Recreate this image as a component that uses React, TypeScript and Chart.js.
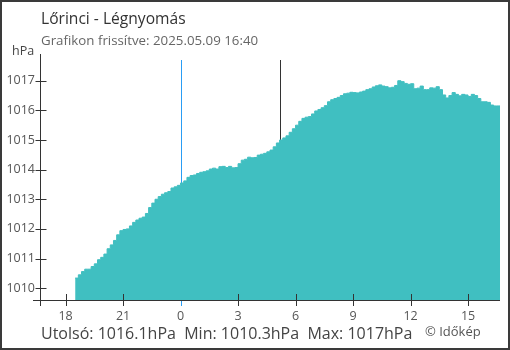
import React, { useEffect, useRef } from "react";
import { Chart, registerables } from "chart.js";

Chart.register(...registerables);

const FONT = "'Open Sans', 'Noto Sans', sans-serif";

const titleText = "Lőrinci - Légnyomás";
const subtitleText = "Grafikon frissítve: 2025.05.09 16:40";
const unitLabel = "hPa";
const footerText = "Utolsó: 1016.1hPa  Min: 1010.3hPa  Max: 1017hPa";
const creditText = "© Időkép";

// minutes relative to midnight (negative = previous day)
const startMinute = -330;
const stepMinutes = 10;
const pressure = [
  1010.34, 1010.45, 1010.56, 1010.64, 1010.64, 1010.73, 1010.82, 1010.96, 1011.04, 1011.15,
  1011.33, 1011.46, 1011.61, 1011.8, 1011.94, 1011.98, 1012.0, 1012.1, 1012.22, 1012.3,
  1012.36, 1012.4, 1012.52, 1012.72, 1012.87, 1013.0, 1013.09, 1013.17, 1013.22, 1013.26,
  1013.38, 1013.42, 1013.47, 1013.55, 1013.62, 1013.74, 1013.8, 1013.82, 1013.87, 1013.91,
  1013.93, 1013.96, 1014.02, 1014.05, 1014.02, 1014.1, 1014.11, 1014.07, 1014.11, 1014.06,
  1014.07, 1014.2, 1014.32, 1014.35, 1014.42, 1014.4, 1014.41, 1014.49, 1014.52, 1014.55,
  1014.6, 1014.66, 1014.77, 1014.9, 1015.0, 1015.07, 1015.14, 1015.26, 1015.38, 1015.5,
  1015.63, 1015.73, 1015.77, 1015.79, 1015.88, 1015.98, 1016.03, 1016.09, 1016.16, 1016.29,
  1016.36, 1016.4, 1016.44, 1016.5, 1016.56, 1016.58, 1016.61, 1016.6, 1016.59, 1016.62,
  1016.65, 1016.7, 1016.73, 1016.79, 1016.83, 1016.86, 1016.82, 1016.8, 1016.76, 1016.78,
  1016.84, 1017.0, 1016.97, 1016.91, 1016.88, 1016.9, 1016.73, 1016.75, 1016.82, 1016.7,
  1016.7, 1016.76, 1016.75, 1016.8, 1016.7, 1016.52, 1016.42, 1016.5, 1016.6, 1016.54,
  1016.49, 1016.54, 1016.52, 1016.47, 1016.54, 1016.5, 1016.4, 1016.29, 1016.29, 1016.27,
  1016.18, 1016.15, 1016.15, 1016.1,
];

const xTickMinutes = [-360, -180, 0, 180, 360, 540, 720, 900];
const xTickLabels = ["18", "21", "0", "3", "6", "9", "12", "15"];
const yTickValues = [1010, 1011, 1012, 1013, 1014, 1015, 1016, 1017];
const xMin = -440;
const xMax = 1000;
const yMin = 1009.6;
const yMax = 1017.7;
const midnightMinute = 0;
const sunriseMinute = 310;

const FILL = "#40bfc1";
const AXIS = "#333333";
const BLUE = "#2a9df4";

export default function App() {
  const ref = useRef<HTMLCanvasElement>(null);

  useEffect(() => {
    document.body.style.margin = "0";
    const canvas = ref.current;
    if (!canvas) return;

    const points = pressure.map((v, i) => ({ x: startMinute + i * stepMinutes, y: v }));

    const vLine = (ctx: any, x: number, y0: number, y1: number, color: string, w = 1) => {
      ctx.save();
      ctx.fillStyle = color;
      ctx.fillRect(Math.round(x), Math.round(y0), w, Math.round(y1 - y0));
      ctx.restore();
    };

    const decor = {
      id: "decor",
      beforeDatasetsDraw(chart: any) {
        const { ctx, chartArea, scales } = chart;
        const xs = scales.x;
        vLine(ctx, xs.getPixelForValue(midnightMinute), chartArea.top, chartArea.bottom + 6, BLUE);
        vLine(ctx, xs.getPixelForValue(sunriseMinute), chartArea.top, chartArea.bottom, AXIS);
      },
      afterDraw(chart: any) {
        const { ctx, chartArea, scales } = chart;
        const xs = scales.x;
        const ys = scales.y;
        ctx.save();
        ctx.strokeStyle = AXIS;
        ctx.lineWidth = 1;
        const ax = chartArea.left + 0.5;
        const ay = chartArea.bottom + 0.5;
        ctx.beginPath();
        ctx.moveTo(chartArea.left - 7, ay);
        ctx.lineTo(chartArea.right, ay);
        ctx.moveTo(ax, chartArea.top - 6);
        ctx.lineTo(ax, chartArea.bottom + 6);
        yTickValues.forEach((v) => {
          const py = Math.round(ys.getPixelForValue(v)) + 0.5;
          ctx.moveTo(ax - 5, py);
          ctx.lineTo(ax + 6, py);
        });
        ctx.stroke();
        xTickMinutes.forEach((m) => {
          const px = xs.getPixelForValue(m);
          if (m === midnightMinute) {
            vLine(ctx, px, chartArea.bottom + 1, chartArea.bottom + 6, BLUE);
          } else {
            vLine(ctx, px, chartArea.bottom - 6, chartArea.bottom + 6, AXIS);
          }
        });

        ctx.textBaseline = "alphabetic";
        ctx.textAlign = "left";
        ctx.fillStyle = "#333333";
        ctx.font = `15.6px ${FONT}`;
        ctx.fillText(titleText, 41, 24);
        ctx.fillStyle = "#666666";
        ctx.font = `13.3px ${FONT}`;
        ctx.fillText(subtitleText, 41, 45);
        ctx.fillStyle = "#444444";
        ctx.font = `12.5px ${FONT}`;
        ctx.fillText(unitLabel, 12, 55);
        ctx.fillStyle = "#444444";
        ctx.font = `16px ${FONT}`;
        ctx.fillText(footerText, 41, 339);
        ctx.fillStyle = "#555555";
        ctx.font = `13px ${FONT}`;
        ctx.fillText(creditText, 425, 336);

        ctx.strokeStyle = "#3a3a3a";
        ctx.lineWidth = 2;
        ctx.strokeRect(1, 1, chart.width - 2, chart.height - 2);
        ctx.restore();
      },
    };

    const chart = new Chart(canvas, {
      type: "line",
      data: {
        datasets: [
          {
            data: points,
            stepped: true,
            fill: "start",
            backgroundColor: FILL,
            borderColor: FILL,
            borderWidth: 1,
            pointRadius: 0,
          },
        ],
      },
      options: {
        responsive: false,
        animation: false,
        events: [],
        layout: { padding: { top: 60, right: 10, left: 0, bottom: 0 } },
        plugins: { legend: { display: false }, tooltip: { enabled: false }, title: { display: false } },
        scales: {
          x: {
            type: "linear",
            min: xMin,
            max: xMax,
            afterFit: (s: any) => {
              s.height = 50;
            },
            afterBuildTicks: (s: any) => {
              s.ticks = xTickMinutes.map((v) => ({ value: v }));
            },
            grid: { display: false, drawTicks: false },
            border: { display: false },
            ticks: {
              autoSkip: false,
              maxRotation: 0,
              padding: 9,
              color: "#555555",
              font: { family: FONT, size: 12.5 },
              callback: (v: any) => xTickLabels[xTickMinutes.indexOf(Number(v))],
            },
          },
          y: {
            type: "linear",
            min: yMin,
            max: yMax,
            afterFit: (s: any) => {
              s.width = 40;
            },
            afterBuildTicks: (s: any) => {
              s.ticks = yTickValues.map((v) => ({ value: v }));
            },
            grid: { display: false, drawTicks: false },
            border: { display: false },
            ticks: {
              padding: 5,
              color: "#555555",
              font: { family: FONT, size: 12.5 },
              callback: (v: any) => String(v),
            },
          },
        },
      },
      plugins: [decor],
    });

    return () => chart.destroy();
  }, []);

  return (
    <div style={{ width: 510, height: 350 }}>
      <canvas ref={ref} width={510} height={350} style={{ display: "block" }} />
    </div>
  );
}
